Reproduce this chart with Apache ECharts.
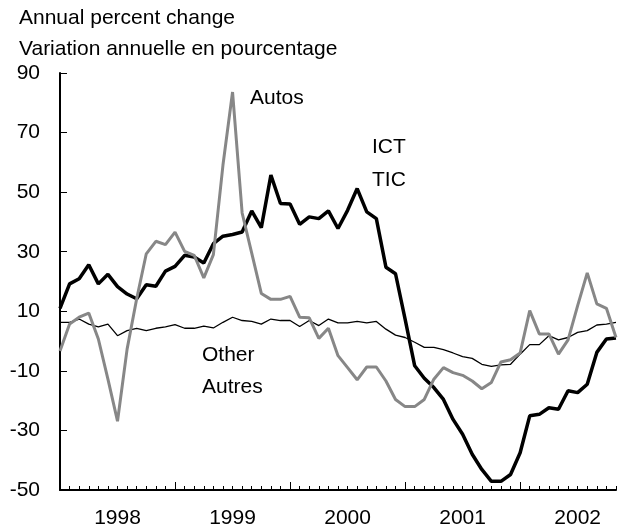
<!DOCTYPE html>
<html>
<head>
<meta charset="utf-8">
<script src="https://cdn.jsdelivr.net/npm/echarts@6/dist/echarts.min.js"></script>
<style>
  html, body { margin: 0; padding: 0; background: #fff; }
  #chart { width: 618px; height: 530px; }
</style>
</head>
<body>
<div id="chart"></div>
<script>
// years on the axis, monthly points from Jan 1998 to Nov 2002
var years = ['1998', '1999', '2000', '2001', '2002'];
var lastMonth = 11; // Nov 2002

// annual percent change
var ict = [11, 19.2, 20.9, 25.6, 19.2, 22.4, 18.3, 15.8, 14.2, 18.9, 18.4, 23.5,
    25.1, 28.8, 28.2, 26.2, 32.7, 35.2, 35.8, 36.6, 43.7, 38.1, 55.7, 46.2,
    46, 39.2, 41.7, 41.1, 43.7, 37.8, 43.9, 51.2, 43.4, 41.1, 24.8, 22.6,
    7.4, -8.3, -12.5, -15.6, -19.6, -26.3, -31.3, -38, -43.1, -47.1, -47.1, -44.8,
    -37.5, -25.1, -24.6, -22.4, -22.9, -16.7, -17.3, -14.5, -3.8, 0.7, 1.0];
var autos = [-3.3, 5.7, 8, 9.4, 0.7, -12.8, -26.9, -2.7, 14.2, 29.3, 33.5, 32.4,
    36.6, 30.1, 28.8, 21.2, 29, 59.1, 83.6, 43, 29.5, 16, 14, 14,
    15, 8, 7.8, 0.9, 4.3, -4.9, -8.9, -13, -8.7, -8.7, -13.4, -19.6,
    -22, -22, -19.6, -12.8, -8.9, -10.6, -11.5, -13.4, -16, -13.9, -7, -6.3,
    -4, 10.2, 2.4, 2.4, -4.4, 0.4, 11.9, 22.9, 12.5, 11, 1.2];
var other = [6.3, 6.3, 7.4, 5.7, 4.8, 5.7, 1.8, 3.5, 4.3, 3.5, 4.3, 4.8,
    5.5, 4.3, 4.3, 5, 4.4, 6.3, 8, 6.9, 6.6, 5.7, 7.4, 6.9,
    6.9, 4.9, 6.9, 5.2, 7.4, 6.1, 6.1, 6.6, 6.1, 6.6, 4, 2,
    1.2, -0.4, -2.1, -2.1, -2.9, -4, -5.2, -5.8, -7.8, -8.5, -8, -7.8,
    -4.4, -1.2, -1.2, 1.8, 0.4, 1.2, 2.9, 3.5, 5.4, 5.7, 6.3];

var months = [];
for (var y = 0; y < years.length; y++) {
    for (var m = 1; m <= 12; m++) {
        if (y === years.length - 1 && m > lastMonth) break;
        months.push(years[y] + '-' + (m < 10 ? '0' + m : m));
    }
}

var font = '"Liberation Sans", Arial, sans-serif';
// plain text placed on the canvas
var txt = function (x, y, s) {
    return {
        type: 'text', left: x, top: y,
        style: { text: s, fill: '#000', font: '21px ' + font }
    };
};

var myChart = echarts.init(document.getElementById('chart'));

option = {
    animation: false,
    backgroundColor: '#fff',
    grid: { left: 60, right: 2, top: 73, bottom: 40 },
    graphic: [
        txt(19, 8, 'Annual percent change'),
        txt(19, 39, 'Variation annuelle en pourcentage'),
        txt(250, 88, 'Autos'),
        txt(372, 137, 'ICT'),
        txt(372, 170, 'TIC'),
        txt(202, 345, 'Other'),
        txt(202, 377, 'Autres')
    ],
    xAxis: [
        {
            type: 'category',
            data: months,
            boundaryGap: false,
            axisLine: { onZero: false, lineStyle: { color: '#000', width: 2 } },
            axisTick: { inside: true, length: 4, interval: 0, lineStyle: { color: '#000', width: 1 } },
            axisLabel: {
                interval: function (i) { return i % 12 === 6; },
                formatter: function (v) { return v.slice(0, 4); },
                color: '#000', fontSize: 21, fontFamily: font, margin: 18
            },
            splitLine: { show: false }
        },
        {
            // longer ticks at each January
            type: 'category',
            data: months,
            position: 'bottom',
            boundaryGap: false,
            axisLine: { show: false, onZero: false },
            axisTick: {
                inside: true, length: 8,
                interval: function (i) { return i % 12 === 0; },
                lineStyle: { color: '#000', width: 1 }
            },
            axisLabel: { show: false },
            splitLine: { show: false }
        }
    ],
    yAxis: {
        type: 'value',
        min: -50,
        max: 90,
        interval: 20,
        axisLine: { show: true, lineStyle: { color: '#000', width: 2 } },
        axisTick: { show: true, inside: true, length: 7, lineStyle: { color: '#000', width: 1 } },
        axisLabel: { color: '#000', fontSize: 21, fontFamily: font, margin: 20 },
        splitLine: { show: false }
    },
    series: [
        {
            name: 'Other', type: 'line', data: other, symbol: 'none',
            lineStyle: { color: '#000', width: 1.3 }
        },
        {
            name: 'ICT', type: 'line', data: ict, symbol: 'none',
            lineStyle: { color: '#000', width: 3.5 }
        },
        {
            name: 'Autos', type: 'line', data: autos, symbol: 'none',
            lineStyle: { color: '#878787', width: 3 }
        }
    ]
};

myChart.setOption(option);
window.addEventListener('resize', function () {
    myChart.resize();
});
</script>
</body>
</html>
